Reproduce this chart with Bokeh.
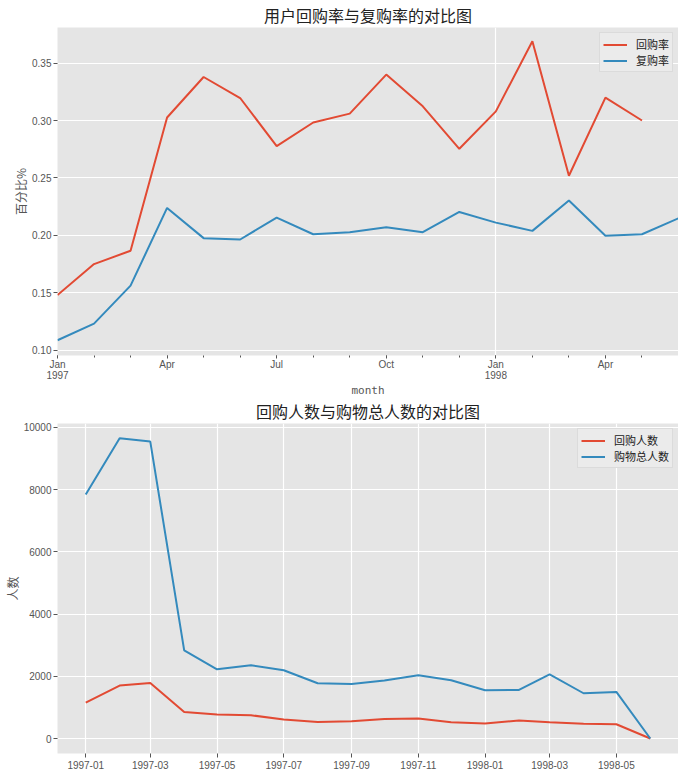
import numpy as np
import pandas as pd
from bokeh.plotting import figure
from bokeh.layouts import column
from bokeh.models import FixedTicker, Legend, LegendItem, Range1d, DatetimeTickFormatter
from bokeh.embed import file_html
from bokeh.resources import INLINE

FONT = "Noto Sans CJK SC"
TICKFONT = "Liberation Sans"
RED = "#E24A33"
BLUE = "#348ABD"

# ---- data ----
month_labels = ["1997-01", "1997-02", "1997-03", "1997-04", "1997-05", "1997-06",
                "1997-07", "1997-08", "1997-09", "1997-10", "1997-11", "1997-12",
                "1998-01", "1998-02", "1998-03", "1998-04", "1998-05", "1998-06"]
repurchase_rate = [0.148, 0.175, 0.1866, 0.3026, 0.3379, 0.3196, 0.2777, 0.2983, 0.306,
                   0.340, 0.3124, 0.2754, 0.308, 0.369, 0.2519, 0.320, 0.300, np.nan]
rebuy_rate = [0.1087, 0.1232, 0.1562, 0.2239, 0.1976, 0.1964, 0.2155, 0.201, 0.2028,
              0.2071, 0.2028, 0.2204, 0.2111, 0.2039, 0.2303, 0.1996, 0.201, 0.2149]
repurchase_users = [1155, 1700, 1785, 855, 770, 748, 610, 533, 555, 630, 642, 523,
                    481, 578, 523, 470, 459, 0]
total_users = [7840, 9647, 9541, 2834, 2224, 2352, 2192, 1775, 1752, 1861, 2031, 1871,
               1550, 1560, 2064, 1454, 1496, 0]
top_tick_pos = [0, 3, 6, 9, 12, 15]
top_tick_labels = ["Jan\n1997", "Apr", "Jul", "Oct", "Jan\n1998", "Apr"]
bottom_tick_months = ["1997-01", "1997-03", "1997-05", "1997-07", "1997-09", "1997-11",
                      "1998-01", "1998-03", "1998-05"]

idx = list(range(len(month_labels)))
dates = pd.to_datetime(month_labels)


def style(p):
    p.background_fill_color = "#E5E5E5"
    p.border_fill_color = "white"
    p.outline_line_color = None
    p.title.text_font = FONT
    p.title.text_font_size = "16px"
    p.title.text_font_style = "normal"
    p.title.text_color = "#222222"
    p.title.align = "center"
    p.title.standoff = 1
    for ax in p.axis:
        ax.axis_line_color = None
        ax.major_tick_line_color = "#555555"
        ax.minor_tick_line_color = "#555555"
        ax.major_tick_out = 4
        ax.major_tick_in = 0
        ax.minor_tick_out = 2
        ax.minor_tick_in = 0
        ax.major_label_text_font = TICKFONT
        ax.major_label_text_font_size = "10px"
        ax.major_label_text_color = "#555555"
        ax.axis_label_text_font = FONT
        ax.axis_label_text_font_size = "12px"
        ax.axis_label_text_font_style = "normal"
        ax.axis_label_text_color = "#555555"
        ax.major_label_standoff = 2
        ax.axis_label_standoff = 0
    for g in p.grid:
        g.grid_line_color = "white"
        g.grid_line_width = 1.2


# ---- top chart ----
p1 = figure(width=678, height=399, output_backend="svg", toolbar_location=None,
            title="用户回购率与复购率的对比图",
            x_range=Range1d(0, 17), y_range=Range1d(0.0954, 0.381),
            min_border_left=50, min_border_right=0, min_border_top=19, min_border_bottom=20)
style(p1)
r1 = p1.line(idx, repurchase_rate, line_color=RED, line_width=2)
r2 = p1.line(idx, rebuy_rate, line_color=BLUE, line_width=2)
p1.xaxis.ticker = FixedTicker(ticks=top_tick_pos, minor_ticks=idx)
p1.xaxis.major_label_overrides = {t: l for t, l in zip(top_tick_pos, top_tick_labels)}
p1.xaxis.major_label_text_line_height = 1.0
p1.xaxis.major_label_standoff = 0
p1.xaxis.axis_label = "month"
p1.xaxis.axis_label_text_font = "DejaVu Sans Mono"
p1.xaxis.axis_label_text_font_size = "11px"
p1.xaxis.axis_label_standoff = 0
p1.xaxis.major_tick_out = 3
p1.yaxis.ticker = FixedTicker(ticks=[0.10, 0.15, 0.20, 0.25, 0.30, 0.35])
p1.yaxis.major_label_overrides = {0.10: "0.10", 0.15: "0.15", 0.20: "0.20",
                                  0.25: "0.25", 0.30: "0.30", 0.35: "0.35"}
p1.yaxis.axis_label = "百分比%"
p1.xgrid.ticker = FixedTicker(ticks=[12])
leg1 = Legend(items=[LegendItem(label="回购率", renderers=[r1]),
                     LegendItem(label="复购率", renderers=[r2])],
              location="top_right")
p1.add_layout(leg1)

# ---- bottom chart ----
span = dates[-1] - dates[0]
x0 = dates[0] - 0.05 * span
x1 = dates[-1] + 0.05 * span
p2 = figure(width=678, height=375, output_backend="svg", toolbar_location=None,
            title="回购人数与购物总人数的对比图", x_axis_type="datetime",
            x_range=Range1d(x0, x1), y_range=Range1d(-482, 10122),
            min_border_left=50, min_border_right=0, min_border_top=21, min_border_bottom=16,
            margin=(-3, 0, -10, 0))
style(p2)
r3 = p2.line(dates, repurchase_users, line_color=RED, line_width=2)
r4 = p2.line(dates, total_users, line_color=BLUE, line_width=2)
tick_ms = [pd.Timestamp(m).value // 10**6 for m in bottom_tick_months]
p2.xaxis.ticker = FixedTicker(ticks=tick_ms)
p2.xaxis.major_label_standoff = 3
fmt = "%Y-%m"
p2.xaxis.formatter = DatetimeTickFormatter(microseconds=fmt, milliseconds=fmt, seconds=fmt,
                                           minsec=fmt, minutes=fmt, hourmin=fmt, hours=fmt,
                                           days=fmt, months=fmt, years=fmt)
p2.yaxis.ticker = FixedTicker(ticks=[0, 2000, 4000, 6000, 8000, 10000])
p2.yaxis.axis_label = "人数"
leg2 = Legend(items=[LegendItem(label="回购人数", renderers=[r3]),
                     LegendItem(label="购物总人数", renderers=[r4])],
              location="top_right")
p2.add_layout(leg2)

for leg in (leg1, leg2):
    leg.background_fill_color = "#EBEBEB"
    leg.background_fill_alpha = 1.0
    leg.border_line_color = "#CCCCCC"
    leg.label_text_font = FONT
    leg.label_text_font_size = "11px"
    leg.label_text_color = "#222222"
    leg.label_height = 13
    leg.glyph_width = 24
    leg.glyph_height = 13
    leg.spacing = 0
    leg.padding = 3
    leg.margin = 5
    leg.label_standoff = 9

layout = column(p1, p2, spacing=0)
open("out.html", "w").write(file_html(layout, INLINE))
